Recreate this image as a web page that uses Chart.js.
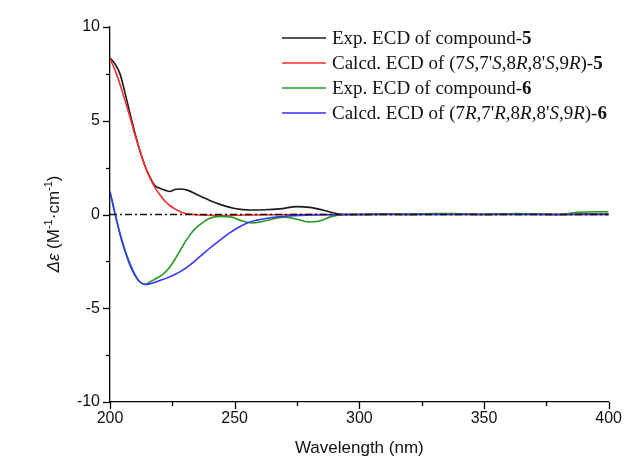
<!DOCTYPE html>
<html>
<head>
<meta charset="utf-8">
<script src="https://cdn.jsdelivr.net/npm/chart.js@4"></script>
<style>
  html, body { margin: 0; padding: 0; background: #fff; }
  #ecd { display: block; }
</style>
</head>
<body>
<canvas id="ecd" width="629" height="466"></canvas>
<script>
// ECD spectra, wavelength (nm) vs delta epsilon
const wlExp5 = [200, 202, 204, 206, 208, 210, 212, 214, 216, 218, 220, 222, 224, 226, 228, 231, 235, 240, 245, 250, 256, 262, 268, 275, 280, 285, 290, 293, 300, 310, 320, 330, 340, 350, 360, 370, 380, 390, 400];
const deExp5 = [8.34, 8.03, 7.5, 6.5, 5.4, 4.35, 3.4, 2.6, 2.0, 1.55, 1.4, 1.3, 1.23, 1.33, 1.36, 1.3, 1.05, 0.75, 0.5, 0.32, 0.24, 0.25, 0.3, 0.42, 0.38, 0.25, 0.08, 0.0, 0.0, 0.02, 0.0, 0.03, 0.02, 0.0, 0.03, 0.02, 0.0, 0.02, 0.03];

const wlCalc5 = [200, 202, 204, 206, 208, 210, 212, 214, 216, 218, 220, 222, 224, 226, 228, 230, 232, 236, 245, 255, 265, 280, 300, 400];
const deCalc5 = [8.3, 7.7, 6.95, 6.1, 5.2, 4.25, 3.4, 2.6, 1.95, 1.45, 1.05, 0.72, 0.48, 0.3, 0.16, 0.07, 0.02, -0.03, -0.05, -0.03, -0.01, 0, 0, 0];

const wlExp6 = [200, 202, 204, 206, 208, 210, 212, 214, 216, 218, 220, 222, 224, 226, 228, 230, 232, 234, 237, 240, 244, 249, 253, 257, 261, 265, 270, 275, 280, 284, 289, 294, 300, 310, 320, 330, 338, 345, 355, 363, 370, 380, 388, 395, 400];
const deExp6 = [1.2, 0.05, -1.0, -1.9, -2.6, -3.2, -3.6, -3.72, -3.6, -3.45, -3.3, -3.1, -2.8, -2.4, -1.95, -1.5, -1.1, -0.78, -0.45, -0.2, -0.1, -0.15, -0.35, -0.45, -0.38, -0.25, -0.14, -0.25, -0.4, -0.35, -0.1, 0, 0, 0.01, 0.02, 0.05, 0.05, 0.01, 0.02, 0.05, 0.02, 0.0, 0.12, 0.15, 0.15];

const wlCalc6 = [200, 202, 204, 206, 208, 210, 212, 214, 216, 218, 220, 223, 226, 229, 232, 236, 240, 244, 248, 252, 255, 259, 263, 270, 280, 290, 300, 400];
const deCalc6 = [1.23, 0.05, -1.05, -1.95, -2.7, -3.25, -3.6, -3.73, -3.7, -3.62, -3.52, -3.38, -3.2, -2.98, -2.7, -2.25, -1.8, -1.38, -0.98, -0.65, -0.45, -0.3, -0.2, -0.09, -0.03, -0.01, 0, 0];

const zeroX = [200, 400];
const zeroY = [0, 0];

// legend text: _x_ = italic, *x* = bold
const seriesNames = [
  'Exp. ECD of compound-*5*',
  "Calcd. ECD of (7_S_,7'_S_,8_R_,8'_S_,9_R_)-*5*",
  'Exp. ECD of compound-*6*',
  "Calcd. ECD of (7_R_,7'_R_,8_R_,8'_S_,9_R_)-*6*"
];
const seriesColors = ['#1a1a1a', '#ff2a2a', '#229a22', '#3535ff'];

const xTicks = [200, 250, 300, 350, 400];
const yTicks = [-10, -5, 0, 5, 10];

function pts(xs, ys) {
  return xs.map((x, i) => ({ x: x, y: ys[i] }));
}

function parseRich(str) {
  const segs = [];
  let cur = '', style = 'normal';
  for (const ch of str) {
    if (ch === '_' || ch === '*') {
      if (cur) segs.push({ t: cur, s: style });
      cur = '';
      const s = ch === '_' ? 'italic' : 'bold';
      style = style === s ? 'normal' : s;
    } else {
      cur += ch;
    }
  }
  if (cur) segs.push({ t: cur, s: style });
  return segs;
}

function drawSegs(ctx, segs, x, y, family, size) {
  let cx = x;
  segs.forEach(seg => {
    const px = seg.sup ? Math.round(size * 0.65) : size;
    const st = seg.s === 'italic' ? 'italic ' : seg.s === 'bold' ? 'bold ' : '';
    ctx.font = st + px + 'px ' + family;
    ctx.fillText(seg.t, cx, seg.sup ? y - size * 0.42 : y);
    cx += ctx.measureText(seg.t).width;
  });
  return cx - x;
}

function segsWidth(ctx, segs, family, size) {
  let w = 0;
  segs.forEach(seg => {
    const px = seg.sup ? Math.round(size * 0.65) : size;
    const st = seg.s === 'italic' ? 'italic ' : seg.s === 'bold' ? 'bold ' : '';
    ctx.font = st + px + 'px ' + family;
    w += ctx.measureText(seg.t).width;
  });
  return w;
}

const extras = {
  id: 'extras',
  afterDraw(chart) {
    const ctx = chart.ctx;
    const xs = chart.scales.x, ys = chart.scales.y;
    ctx.save();
    ctx.strokeStyle = '#000';
    ctx.lineWidth = 1.3;
    // ticks, major and minor, outward
    for (let v = 200; v <= 400; v += 25) {
      const p = Math.round(xs.getPixelForValue(v)) + 0.5;
      const len = xTicks.includes(v) ? 7 : 4;
      ctx.beginPath();
      ctx.moveTo(p, ys.bottom);
      ctx.lineTo(p, ys.bottom + len);
      ctx.stroke();
    }
    for (let v = -10; v <= 10; v += 2.5) {
      const p = Math.round(ys.getPixelForValue(v)) + 0.5;
      const len = yTicks.includes(v) ? 7 : 4;
      ctx.beginPath();
      ctx.moveTo(xs.left, p);
      ctx.lineTo(xs.left - len, p);
      ctx.stroke();
    }

    // legend
    const serif = '"Liberation Serif", "Times New Roman", serif';
    ctx.textBaseline = 'middle';
    ctx.textAlign = 'left';
    seriesNames.forEach((name, i) => {
      const y = 38 + i * 25;
      ctx.strokeStyle = seriesColors[i];
      ctx.lineWidth = 1.6;
      ctx.beginPath();
      ctx.moveTo(282, y);
      ctx.lineTo(326, y);
      ctx.stroke();
      ctx.fillStyle = '#111';
      drawSegs(ctx, parseRich(name), 332, y + 1, serif, 19);
    });

    // y axis title
    const sans = '"Liberation Sans", Arial, sans-serif';
    const title = [
      { t: 'Δε', s: 'italic' }, { t: ' (M', s: 'normal' }, { t: '-1', s: 'normal', sup: true },
      { t: '·cm', s: 'normal' }, { t: '-1', s: 'normal', sup: true }, { t: ')', s: 'normal' }
    ];
    ctx.translate(59, 224);
    ctx.rotate(-Math.PI / 2);
    ctx.textBaseline = 'alphabetic';
    ctx.fillStyle = '#111';
    const w = segsWidth(ctx, title, sans, 17);
    drawSegs(ctx, title, -w / 2, 0, sans, 17);
    ctx.restore();
  }
};

const lineDs = (label, xs, ys, color, order) => ({
  label: label,
  data: pts(xs, ys),
  borderColor: color,
  borderWidth: 1.6,
  pointRadius: 0,
  cubicInterpolationMode: 'monotone',
  fill: false,
  order: order
});

new Chart(document.getElementById('ecd').getContext('2d'), {
  type: 'line',
  data: {
    datasets: [
      lineDs(seriesNames[0], wlExp5, deExp5, seriesColors[0], 4),
      lineDs(seriesNames[1], wlCalc5, deCalc5, seriesColors[1], 3),
      lineDs(seriesNames[2], wlExp6, deExp6, seriesColors[2], 2),
      lineDs(seriesNames[3], wlCalc6, deCalc6, seriesColors[3], 1),
      {
        label: 'zero',
        data: pts(zeroX, zeroY),
        borderColor: '#111',
        borderWidth: 1.3,
        borderDash: [7, 3, 2, 3],
        pointRadius: 0,
        order: 0
      }
    ]
  },
  options: {
    responsive: false,
    animation: false,
    layout: { padding: { top: 27, right: 18, left: 0, bottom: 0 } },
    plugins: { legend: { display: false }, tooltip: { enabled: false } },
    scales: {
      x: {
        type: 'linear',
        min: 200,
        max: 400,
        grid: { display: false, drawTicks: false },
        border: { display: true, color: '#000', width: 1.3 },
        ticks: {
          stepSize: 50,
          padding: 7,
          color: '#111',
          font: { family: '"Liberation Sans", Arial, sans-serif', size: 16 },
          maxRotation: 0
        },
        title: {
          display: true,
          text: 'Wavelength (nm)',
          color: '#111',
          font: { family: '"Liberation Sans", Arial, sans-serif', size: 17 },
          padding: { top: 0, bottom: 7 }
        },
        afterFit: scale => { scale.height = 64; }
      },
      y: {
        min: -10,
        max: 10,
        grid: { display: false, drawTicks: false },
        border: { display: true, color: '#000', width: 1.3 },
        ticks: {
          stepSize: 5,
          padding: 10,
          color: '#111',
          font: { family: '"Liberation Sans", Arial, sans-serif', size: 16 }
        },
        afterFit: scale => { scale.width = 110; }
      }
    }
  },
  plugins: [extras]
});
</script>
</body>
</html>
